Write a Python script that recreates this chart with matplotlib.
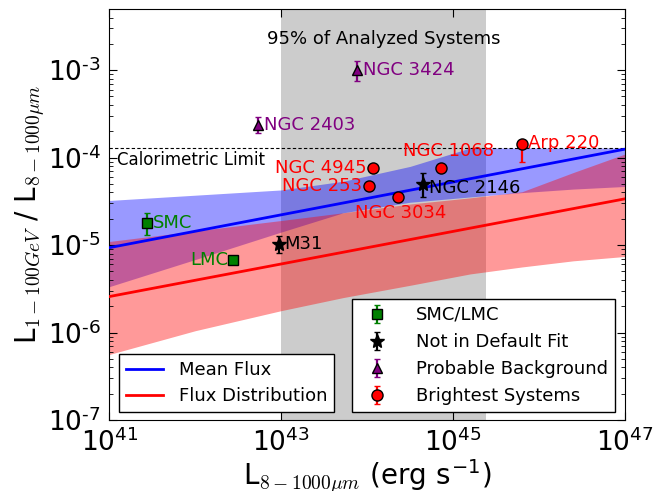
import numpy as np
import matplotlib
matplotlib.use("Agg")
import matplotlib.pyplot as plt
from matplotlib.lines import Line2D
from matplotlib.ticker import FuncFormatter

plt.rcParams['mathtext.fontset'] = 'cm'
plt.rcParams['font.family'] = 'DejaVu Sans'

# fitted relations: mean flux and flux distribution
lum_fit = [1e41, 1e47]
mean_flux = [9.35e-6, 1.25e-4]
dist_flux = [2.58e-6, 3.38e-5]

# uncertainty bands for both fits
lum_band = [1e41, 1e42, 1e43, 5.25e43, 3.16e44, 1.58e45, 6.31e45, 2.51e46, 1e47]
mean_hi = [3.24e-5, 3.72e-5, 4.27e-5, 5.37e-5, 7.94e-5, 1.29e-4, 1.29e-4, 1.29e-4, 1.29e-4]
mean_lo = [3.35e-6, 6.84e-6, 1.41e-5, 2.34e-5, 3.09e-5, 3.55e-5, 3.98e-5, 4.37e-5, 4.68e-5]
dist_hi = [1.10e-5, 1.45e-5, 1.91e-5, 2.34e-5, 2.95e-5, 3.47e-5, 4.07e-5, 6.76e-5, 1.10e-4]
dist_lo = [5.62e-7, 1.05e-6, 1.78e-6, 2.51e-6, 3.47e-6, 4.68e-6, 5.62e-6, 6.61e-6, 7.41e-6]

calorimetric = 1.29e-4
analyzed_range = [1e43, 2.4e45]

# galaxies, grouped as in the legend
mc_names = ['SMC', 'LMC']
mc_lum = [2.72e41, 2.73e42]
mc_flux = [1.78e-5, 6.8e-6]
mc_lo = [1.32e-5, 6.5e-6]
mc_hi = [2.30e-5, 7.1e-6]

nofit_names = ['M31', 'NGC 2146']
nofit_lum = [9.5e42, 4.5e44]
nofit_flux = [1.03e-5, 4.98e-5]
nofit_lo = [8.2e-6, 3.55e-5]
nofit_hi = [1.27e-5, 6.6e-5]

bg_names = ['NGC 2403', 'NGC 3424']
bg_lum = [5.33e42, 7.7e43]
bg_flux = [2.37e-4, 1.0e-3]
bg_lo = [1.9e-4, 7.6e-4]
bg_hi = [2.95e-4, 1.26e-3]

bright_names = ['NGC 253', 'NGC 4945', 'NGC 3034', 'NGC 1068', 'Arp 220']
bright_lum = [1.06e44, 1.16e44, 2.26e44, 7.2e44, 6.28e45]
bright_flux = [4.68e-5, 7.6e-5, 3.59e-5, 7.6e-5, 1.44e-4]
bright_lo = [4.5e-5, 7.3e-5, 3.45e-5, 7.3e-5, 9.0e-5]
bright_hi = [4.9e-5, 7.9e-5, 3.75e-5, 8.5e-5, 1.5e-4]

fig = plt.figure(figsize=(6.67, 4.91), dpi=100)
ax = fig.add_axes([0.164, 0.1446, 0.773, 0.837])

ax.axvspan(analyzed_range[0], analyzed_range[1], color='k', alpha=0.2, lw=0, zorder=0)
ax.fill_between(lum_band, mean_lo, mean_hi, color='b', alpha=0.4, lw=0, zorder=1)
ax.fill_between(lum_band, dist_lo, dist_hi, color='r', alpha=0.4, lw=0, zorder=1)
ax.axhline(calorimetric, color='k', ls='--', lw=0.8, dashes=(3, 2), zorder=2)

ax.plot(lum_fit, mean_flux, color='b', lw=2, zorder=3)
ax.plot(lum_fit, dist_flux, color='r', lw=2, zorder=3)


def draw_group(lum, flux, lo, hi, marker, color, ms, label):
    flux = np.array(flux)
    yerr = [flux - np.array(lo), np.array(hi) - flux]
    return ax.errorbar(lum, flux, yerr=yerr, fmt=marker, color=color, ms=ms,
                       mec='k', mew=1, elinewidth=1.6, capsize=2, label=label,
                       zorder=5)


h_mc = draw_group(mc_lum, mc_flux, mc_lo, mc_hi, 's', 'g', 7, 'SMC/LMC')
h_nf = draw_group(nofit_lum, nofit_flux, nofit_lo, nofit_hi, '*', 'k', 10,
                  'Not in Default Fit')
h_bg = draw_group(bg_lum, bg_flux, bg_lo, bg_hi, '^', 'purple', 7,
                  'Probable Background')
h_br = draw_group(bright_lum, bright_flux, bright_lo, bright_hi, 'o', 'r', 8,
                  'Brightest Systems')

# name tags next to each galaxy
tags = [
    ('SMC', mc_lum[0], mc_flux[0], (6, 0), 'left', 'g'),
    ('LMC', mc_lum[1], mc_flux[1], (-5, 0), 'right', 'g'),
    ('M31', nofit_lum[0], nofit_flux[0], (5, 0), 'left', 'k'),
    ('NGC 2146', nofit_lum[1], nofit_flux[1], (6, -4), 'left', 'k'),
    ('NGC 2403', bg_lum[0], bg_flux[0], (6, 0), 'left', 'purple'),
    ('NGC 3424', bg_lum[1], bg_flux[1], (6, 0), 'left', 'purple'),
    ('NGC 253', bright_lum[0], bright_flux[0], (-7, 0), 'right', 'r'),
    ('NGC 4945', bright_lum[1], bright_flux[1], (-6, 0), 'right', 'r'),
    ('NGC 3034', bright_lum[2], bright_flux[2], (3, -16), 'center', 'r'),
    ('NGC 1068', bright_lum[3], bright_flux[3], (8, 17), 'center', 'r'),
    ('Arp 220', bright_lum[4], bright_flux[4], (6, 1), 'left', 'r'),
]
for name, lx, ly, off, ha, col in tags:
    ax.annotate(name, (lx, ly), xytext=off, textcoords='offset pixels',
                ha=ha, va='center', color=col, fontsize=13, zorder=6)

ax.text(np.sqrt(analyzed_range[0] * analyzed_range[1]), 2.3e-3,
        '95% of Analyzed Systems', ha='center', va='center', fontsize=13)
ax.text(1.23e41, 9.4e-5, 'Calorimetric Limit', ha='left', va='center',
        fontsize=12)

ax.set_xscale('log')
ax.set_yscale('log')
ax.set_xlim(1e41, 1e47)
ax.set_ylim(1e-7, 5e-3)


def pow_label(v, pos):
    # decade labels with a short hyphen in the exponent
    e = int(round(np.log10(v)))
    s = str(abs(e))
    if e < 0:
        s = '\u2010' + s
    return r'$\mathdefault{10^{%s}}$' % s


ax.xaxis.set_major_formatter(FuncFormatter(pow_label))
ax.yaxis.set_major_formatter(FuncFormatter(pow_label))

ax.tick_params(which='both', direction='in', top=True, right=True)
ax.tick_params(which='major', length=6, labelsize=19, pad=6)
ax.tick_params(which='minor', length=3)

ax.set_xlabel(r'L$_{8-1000\mu m}$ (erg s$^{\mathdefault{-1}}$)', fontsize=20,
              labelpad=0)
ax.set_ylabel(r'L$_{1-100GeV}$ / L$_{8-1000\mu m}$', fontsize=20, labelpad=1)

fit_handles = [Line2D([], [], color='b', lw=2), Line2D([], [], color='r', lw=2)]
leg1 = ax.legend(fit_handles, ['Mean Flux', 'Flux Distribution'], loc='lower left',
                 bbox_to_anchor=(0.019, 0.019), borderaxespad=0, fontsize=13,
                 fancybox=False, framealpha=1, edgecolor='k', labelspacing=0.45,
                 handletextpad=0.9)
leg1.get_frame().set_linewidth(1)
ax.add_artist(leg1)

leg2 = ax.legend([h_mc, h_nf, h_bg, h_br],
                 ['SMC/LMC', 'Not in Default Fit', 'Probable Background',
                  'Brightest Systems'],
                 loc='lower right', bbox_to_anchor=(0.981, 0.019), borderaxespad=0,
                 fontsize=13, fancybox=False, framealpha=1, edgecolor='k',
                 labelspacing=0.5, numpoints=1, handletextpad=1.15)
leg2.get_frame().set_linewidth(1)

fig.savefig('out.png', dpi=100)
